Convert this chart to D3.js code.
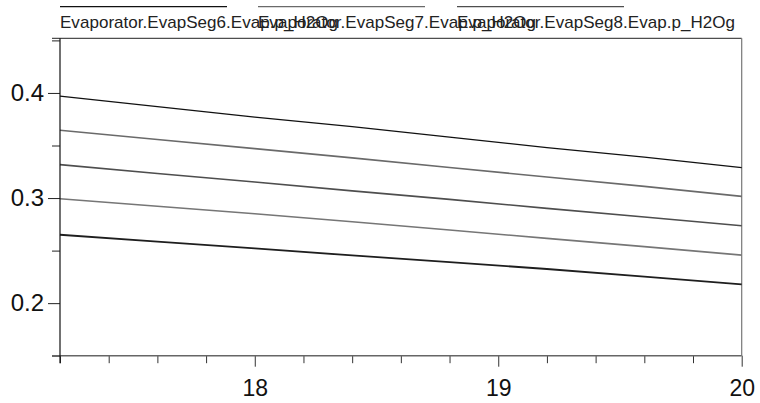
<!DOCTYPE html>
<html>
<head>
<meta charset="utf-8">
<script src="https://cdn.jsdelivr.net/npm/d3@7"></script>
<style>
  html, body { margin: 0; padding: 0; background: #fff; }
  svg { display: block; }
</style>
</head>
<body>
<svg id="chart" width="760" height="403"></svg>
<script>
// ---- data ----
const times = [17.2, 17.6, 18.0, 18.4, 18.8, 19.2, 19.6, 20.0];
const seriesNames = [
  "Evaporator.EvapSeg6.Evap.p_H2Og",
  "Evaporator.EvapSeg7.Evap.p_H2Og",
  "Evaporator.EvapSeg8.Evap.p_H2Og",
  "Evaporator.EvapSeg9.Evap.p_H2Og",
  "Evaporator.EvapSeg10.Evap.p_H2Og"
];
const seg6 = [0.397, 0.387, 0.377, 0.368, 0.358, 0.348, 0.339, 0.329];
const seg7 = [0.3645, 0.3557, 0.3470, 0.3382, 0.3290, 0.3201, 0.3111, 0.3016];
const seg8 = [0.3318, 0.3234, 0.3152, 0.3068, 0.2987, 0.2902, 0.2819, 0.2737];
const seg9 = [0.2994, 0.2922, 0.2850, 0.2775, 0.2696, 0.2616, 0.2538, 0.2457];
const seg10 = [0.2651, 0.2586, 0.2521, 0.2454, 0.2390, 0.2325, 0.2252, 0.2178];
const seriesValues = [seg6, seg7, seg8, seg9, seg10];
const xMajorTicks = [18, 19, 20];
const xMinorTicks = [17.2, 17.4, 17.6, 17.8, 18.2, 18.4, 18.6, 18.8, 19.2, 19.4, 19.6, 19.8];
const yMajorTicks = [0.2, 0.3, 0.4];
const yMinorTicks = [0.15, 0.25, 0.35, 0.45];
const legendCount = 3;

// ---- styling ----
const colors = ["#111111", "#6a6a6a", "#4e4e4e", "#767676", "#1e1e1e"];
const widths = [1.2, 1.6, 1.6, 1.6, 1.8];

const svg = d3.select("#chart");
const pLeft = 60, pRight = 741.7, pTop = 38.3, pBottom = 355.7;

const x = d3.scaleLinear().domain([17.2, 20]).range([pLeft, pRight]);
const y = d3.scaleLinear().domain([0.15, 0.452]).range([pBottom, pTop]);

// frame lines
svg.append("line").attr("x1", 52).attr("x2", pRight).attr("y1", pTop).attr("y2", pTop)
  .attr("stroke", "#222").attr("stroke-width", 1);
svg.append("line").attr("x1", pRight).attr("x2", pRight).attr("y1", pTop).attr("y2", pBottom)
  .attr("stroke", "#777").attr("stroke-width", 1.2);

// series
const line = d3.line().x(d => x(d[0])).y(d => y(d[1]));
seriesValues.forEach((vals, i) => {
  svg.append("path")
    .datum(times.map((t, j) => [t, vals[j]]))
    .attr("fill", "none")
    .attr("stroke", colors[i])
    .attr("stroke-width", widths[i])
    .attr("d", line);
});

// y axis
const gy = svg.append("g").attr("transform", `translate(${pLeft},0)`);
gy.call(d3.axisLeft(y).tickValues(yMajorTicks).tickSize(12).tickPadding(4).tickFormat(d3.format(".1f")));
const gyMinor = svg.append("g").attr("transform", `translate(${pLeft},0)`);
gyMinor.call(d3.axisLeft(y).tickValues(yMinorTicks).tickSize(8).tickFormat(""));
[gy, gyMinor].forEach(g => {
  g.select(".domain").remove();
  g.selectAll("line").attr("stroke", "#222");
});
gy.selectAll("text").attr("font-family", "'Liberation Sans', Arial, sans-serif")
  .attr("font-size", 24).attr("fill", "#111");

// x axis
const gx = svg.append("g").attr("transform", `translate(0,${pBottom})`);
gx.call(d3.axisBottom(x).tickValues(xMajorTicks).tickSize(11).tickPadding(13).tickFormat(d3.format("d")));
const gxMinor = svg.append("g").attr("transform", `translate(0,${pBottom})`);
gxMinor.call(d3.axisBottom(x).tickValues(xMinorTicks).tickSize(7.5).tickFormat(""));
[gx, gxMinor].forEach(g => {
  g.select(".domain").remove();
  g.selectAll("line").attr("stroke", "#333");
});
gx.selectAll("text").attr("font-family", "'Liberation Sans', Arial, sans-serif")
  .attr("font-size", 23).attr("fill", "#111");

// axis lines
svg.append("line").attr("x1", 52).attr("x2", pRight).attr("y1", pBottom).attr("y2", pBottom)
  .attr("stroke", "#666").attr("stroke-width", 1.5);
svg.append("line").attr("x1", pLeft).attr("x2", pLeft).attr("y1", pTop).attr("y2", pBottom + 7.5)
  .attr("stroke", "#111").attr("stroke-width", 1.2);

// legend
const legendX = [60, 258, 457];
for (let i = 0; i < legendCount; i++) {
  svg.append("line")
    .attr("x1", legendX[i]).attr("x2", legendX[i] + 167)
    .attr("y1", 6.7).attr("y2", 6.7)
    .attr("stroke", colors[i]).attr("stroke-width", 1.2);
  svg.append("text")
    .attr("x", legendX[i]).attr("y", 27.5)
    .attr("font-family", "'Liberation Sans', Arial, sans-serif")
    .attr("font-size", 17)
    .attr("fill", "#222")
    .attr("textLength", 278)
    .attr("lengthAdjust", "spacing")
    .text(seriesNames[i]);
}
</script>
</body>
</html>
